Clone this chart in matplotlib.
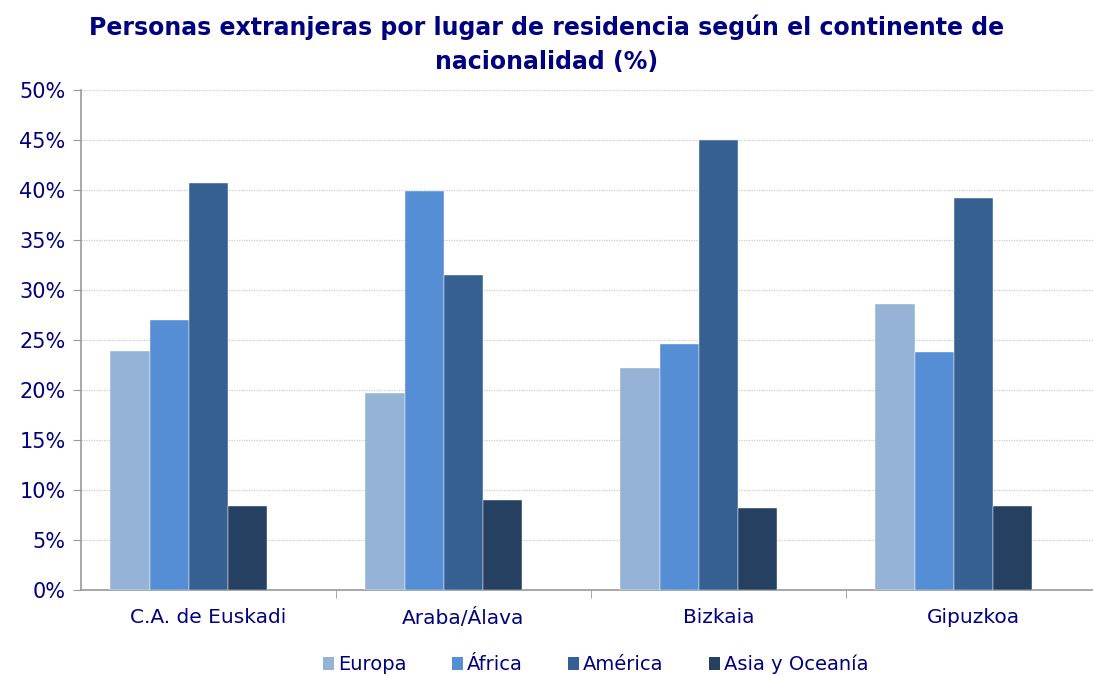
import numpy as np
import matplotlib.pyplot as plt
from matplotlib.patches import Patch

lugares = ['C.A. de Euskadi', 'Araba/Álava', 'Bizkaia', 'Gipuzkoa']
europa = [23.9, 19.7, 22.2, 28.6]
africa = [27.0, 39.9, 24.6, 23.8]
america = [40.7, 31.5, 45.0, 39.2]
asia = [8.4, 9.0, 8.2, 8.4]

series = ['Europa', 'África', 'América', 'Asia y Oceanía']
colores = ['#95B3D7', '#558ED5', '#376092', '#254061']
navy = '#000080'

plt.rcParams['font.family'] = ['DejaVu Sans']

fig = plt.figure(figsize=(10.93, 6.75), dpi=100)
# axis runs a little past the right edge, as in the original
ax = fig.add_axes([81 / 1093, 85 / 675, 1020 / 1093, 500 / 675])

x = np.arange(len(lugares))
w = 0.154
start = -0.5 + 0.115
for i, (vals, col) in enumerate(zip([europa, africa, america, asia], colores)):
    ax.bar(x + start + i * w, vals, width=w, align='edge', color=col,
           edgecolor='white', linewidth=0.3, zorder=3)

ax.set_xlim(-0.5, len(lugares) - 0.5)
ax.set_ylim(0, 50)
ax.set_yticks(range(0, 51, 5))
ax.set_yticklabels([f'{v}%' for v in range(0, 51, 5)], color=navy, fontsize=15)
ax.set_xticks(x)
ax.set_xticklabels(lugares, color=navy, fontsize=14.5)
ax.tick_params(axis='x', length=0, pad=13)
ax.set_xticks(np.arange(0.5, len(lugares) - 0.5, 1), minor=True)
ax.tick_params(axis='x', which='minor', length=6, color='#999999', direction='out')
ax.tick_params(axis='y', length=6, color='#999999', pad=5)

ax.yaxis.grid(True, linestyle=(0, (1, 1)), color='#cccccc', linewidth=0.9, zorder=0)
for s in ['top', 'right']:
    ax.spines[s].set_visible(False)
for s in ['left', 'bottom']:
    ax.spines[s].set_color('#999999')
    ax.spines[s].set_linewidth(1.2)

fig.text(0.5, 0.978, 'Personas extranjeras por lugar de residencia según el continente de\nnacionalidad (%)',
         ha='center', va='top', fontsize=17, fontweight='bold', color=navy, linespacing=1.5)

handles = [Patch(facecolor=c, label=s) for c, s in zip(colores, series)]
fig.legend(handles=handles, loc='lower center', bbox_to_anchor=(0.545, -0.025), ncol=4,
           frameon=False, fontsize=14, labelcolor=navy, handlelength=0.6, handleheight=0.6,
           handletextpad=0.2, columnspacing=2.3)

fig.savefig('out.png', dpi=100)
